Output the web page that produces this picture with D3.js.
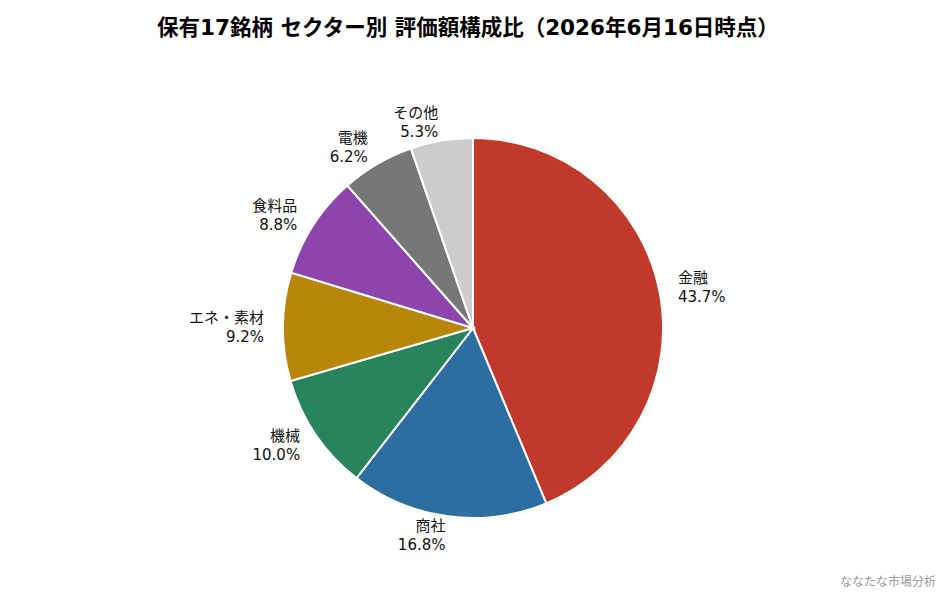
<!DOCTYPE html>
<html>
<head>
<meta charset="utf-8">
<script src="https://cdn.jsdelivr.net/npm/d3@7"></script>
<style>
  body { margin: 0; background: #fff; }
  svg { display: block; font-family: "DejaVu Sans", "Noto Sans CJK JP", sans-serif; }
</style>
</head>
<body>
<div id="root"></div>
<script>
const sectors = ['金融', '商社', '機械', 'エネ・素材', '食料品', '電機', 'その他']
const shares = [43.7, 16.8, 10.0, 9.2, 8.8, 6.2, 5.3]
const colors = ['#c0392b', '#2e6da0', '#27845c', '#b8860b', '#8e44ad', '#777777', '#cccccc']

const title = '保有17銘柄 セクター別 評価額構成比（2026年6月16日時点）'
const credit = 'ななたな市場分析'

const w = 946
const h = 594
const cx = 473
const cy = 328
const r = 190

const svg = d3.select('#root')
  .append('svg')
  .attr('width', w)
  .attr('height', h)

svg.append('text')
  .attr('x', 468)
  .attr('y', 35)
  .attr('text-anchor', 'middle')
  .attr('font-size', 21.5)
  .attr('font-weight', 'bold')
  .text(title)

const data = sectors.map((s, i) => ({ sector: s, share: shares[i], color: colors[i] }))

const pie = d3.pie()
  .sort(null)
  .value(d => d.share)

const arc = d3.arc()
  .innerRadius(0)
  .outerRadius(r)

const g = svg.append('g')
  .attr('transform', 'translate(' + cx + ',' + cy + ')')

const arcs = pie(data)

g.selectAll('path')
  .data(arcs)
  .enter()
  .append('path')
    .attr('d', arc)
    .attr('fill', d => d.data.color)
    .attr('stroke', '#fff')
    .attr('stroke-width', 2)

// labels at 1.1 * radius, anchored by side
const labels = g.selectAll('text.label')
  .data(arcs)
  .enter()
  .append('text')
    .attr('class', 'label')
    .attr('font-size', 15)
    .attr('fill', '#111')
    .attr('text-anchor', d => {
      const a = (d.startAngle + d.endAngle) / 2
      return Math.sin(a) > 0 ? 'start' : 'end'
    })
    .attr('transform', d => {
      const a = (d.startAngle + d.endAngle) / 2
      const x = Math.sin(a) * r * 1.1
      const y = -Math.cos(a) * r * 1.1
      return 'translate(' + x + ',' + y + ')'
    })

labels.append('tspan')
  .attr('x', 0)
  .attr('y', -4)
  .text(d => d.data.sector)

labels.append('tspan')
  .attr('x', 0)
  .attr('y', 15)
  .text(d => d3.format('.1f')(d.data.share) + '%')

svg.append('text')
  .attr('x', 936)
  .attr('y', 586)
  .attr('text-anchor', 'end')
  .attr('font-size', 12)
  .attr('fill', '#999')
  .text(credit)
</script>
</body>
</html>
